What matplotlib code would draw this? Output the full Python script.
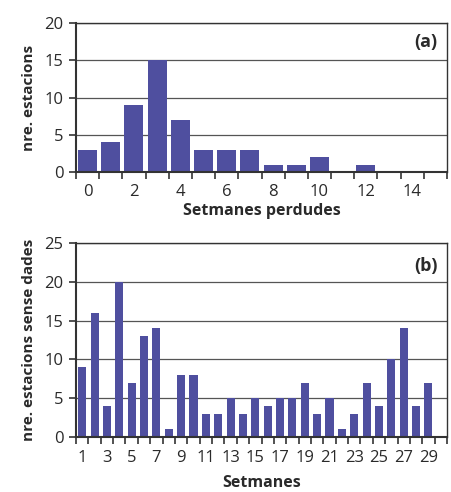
import numpy as np
import matplotlib
matplotlib.use("Agg")
import matplotlib.pyplot as plt

# panel (a): weeks lost -> number of stations
setmanes_perdudes = list(range(0, 16))
nre_estacions = [3, 4, 9, 15, 7, 3, 3, 2.9, 1, 1, 2, 0, 1, 0, 0, 0]

# panel (b): week -> stations without data
setmanes = list(range(1, 31))
sense_dades = [9, 16, 4, 20, 7, 13, 14, 1, 8, 8, 3, 3, 5, 3, 5,
               4, 5, 5, 7, 3, 5, 1, 3, 7, 4, 10, 14, 4, 7, 0]

bar_color = "#4f4f9f"
txt_color = "#2a2a2a"
plt.rcParams['font.family'] = ['Open Sans', 'DejaVu Sans']

fig = plt.figure(figsize=(4.51, 4.92), dpi=100)
W, H = 451.0, 492.0
ax1 = fig.add_axes([76 / W, 1 - 172 / H, 371 / W, 149 / H])
ax2 = fig.add_axes([76 / W, 1 - 437 / H, 371 / W, 194 / H])


def style(ax, cats, vals, width, ymax, xlabel, ylabel, tag):
    x = np.arange(len(cats))
    ax.set_axisbelow(True)
    ax.bar(x, vals, width=width, color=bar_color, zorder=2)
    ax.set_xlim(-0.5, len(cats) - 0.5)
    ax.set_ylim(0, ymax)
    ax.set_yticks(np.arange(0, ymax + 1, 5))
    ax.yaxis.grid(True, color="#555555", linewidth=0.9)
    # boundary ticks, labels at every other category centre
    ax.set_xticks(np.arange(-0.5, len(cats) + 0.5, 1))
    ax.set_xticklabels([])
    ax.set_xticks(x[::2], minor=True)
    ax.set_xticklabels([str(c) for c in cats[::2]], minor=True)
    ax.tick_params(axis="x", which="major", length=5, width=1.2, direction="out", color="#333333")
    ax.tick_params(axis="x", which="minor", length=0, pad=9, labelsize=12, labelcolor=txt_color)
    ax.tick_params(axis="y", length=5, width=1.2, direction="out", pad=4,
                   labelsize=12, labelcolor=txt_color, color="#333333")
    for s in ax.spines.values():
        s.set_color("#333333")
        s.set_linewidth(1.0)
    ax.spines["bottom"].set_linewidth(1.5)
    ax.spines["left"].set_linewidth(1.5)
    ax.set_xlabel(xlabel, fontsize=11.5, fontweight="bold", color=txt_color, labelpad=2)
    ax.set_ylabel(ylabel, fontsize=11, fontweight="bold", color=txt_color, labelpad=6)
    ax.text(0.975, 0.93, tag, transform=ax.transAxes, ha="right", va="top",
            fontsize=13, fontweight="bold", color=txt_color)


style(ax1, setmanes_perdudes, nre_estacions, 0.82, 20,
      "Setmanes perdudes", "nre. estacions", "(a)")
style(ax2, setmanes, sense_dades, 0.65, 25,
      "Setmanes", "nre. estacions sense dades", "(b)")
ax2.xaxis.labelpad = 7

fig.savefig("out.png", dpi=100)
